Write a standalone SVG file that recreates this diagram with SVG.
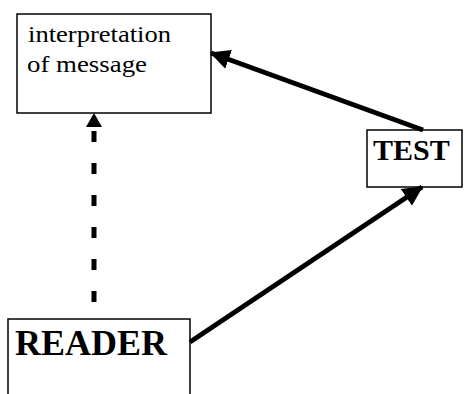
<svg xmlns="http://www.w3.org/2000/svg" width="465" height="394" viewBox="0 0 465 394">
<defs>
<style>
.box{fill:#fff;stroke:#000;stroke-width:1.5}
.conn{fill:none;stroke:#000;stroke-width:5}
.txt{font-family:"Liberation Serif","Times New Roman",serif;fill:#000}
</style>
<marker id="ah" markerUnits="userSpaceOnUse" markerWidth="20" markerHeight="20" viewBox="0 0 16 16" refX="15" refY="8" orient="auto">
<path d="M0,0 L16,8 L0,16 Z" fill="#000"/>
</marker>
</defs>
<rect width="465" height="394" fill="#fff"/>
<g id="interpretation">
<rect class="box" x="17" y="14" width="194" height="99"/>
<text class="txt" x="28" y="42" font-size="24" textLength="143" lengthAdjust="spacingAndGlyphs">interpretation</text>
<text class="txt" x="27" y="72" font-size="24" textLength="120" lengthAdjust="spacingAndGlyphs">of message</text>
</g>
<g id="test">
<rect class="box" x="367" y="130" width="95" height="57"/>
<text class="txt" x="373" y="160" font-size="30" font-weight="bold">TEST</text>
</g>
<g id="reader">
<rect class="box" x="8" y="319" width="182" height="90"/>
<text class="txt" x="15" y="355" font-size="36" font-weight="bold">READER</text>
</g>
<g id="connectors">
<line class="conn" x1="423" y1="130" x2="211" y2="53" marker-end="url(#ah)"/>
<line class="conn" x1="190" y1="342" x2="422" y2="187" marker-end="url(#ah)"/>
<line class="conn" x1="94" y1="302" x2="94" y2="127" stroke-dasharray="11 21" stroke-width="4.5"/>
<path d="M94,113 L102,127 L86,127 Z" fill="#000"/>
</g>
</svg>
